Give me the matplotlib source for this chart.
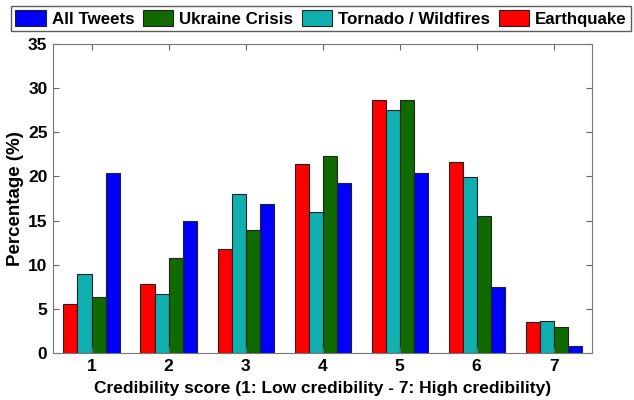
import numpy as np
import matplotlib.pyplot as plt

plt.rcParams['font.family'] = ['Liberation Sans', 'DejaVu Sans']
plt.rcParams['font.weight'] = 'bold'

scores = [1, 2, 3, 4, 5, 6, 7]
earthquake = [5.6, 7.8, 11.8, 21.4, 28.7, 21.6, 3.5]
tornado = [8.9, 6.7, 18.0, 16.0, 27.5, 19.9, 3.6]
ukraine = [6.3, 10.8, 13.9, 22.3, 28.7, 15.5, 2.9]
all_tweets = [20.4, 14.9, 16.9, 19.3, 20.4, 7.5, 0.8]

series = [
    ("Earthquake", earthquake, "#ff0000"),
    ("Tornado / Wildfires", tornado, "#10b0b0"),
    ("Ukraine Crisis", ukraine, "#106a00"),
    ("All Tweets", all_tweets, "#0000ff"),
]

fig = plt.figure(figsize=(6.34, 4), dpi=100)
ax = fig.add_axes([0.0836, 0.1175, 0.8504, 0.7725])

x = np.array(scores)
w = 0.182
bars = {}
for i, (name, vals, col) in enumerate(series):
    bars[name] = ax.bar(x + (i - 1.5) * w, vals, w, color=col,
                        edgecolor="#222222", linewidth=0.8)

ax.set_xlim(0.5, 7.5)
ax.set_ylim(0, 35)
ax.set_xticks(scores)
ax.set_yticks(range(0, 36, 5))
ax.tick_params(direction="in", top=True, right=True, length=4,
               color="#666666", labelsize=12.5, pad=4)
for s in ax.spines.values():
    s.set_color("#777777")
ax.set_ylabel("Percentage (%)", fontsize=13.5, fontweight="bold", labelpad=3)
ax.set_xlabel("Credibility score (1: Low credibility - 7: High credibility)",
              fontsize=12.5, fontweight="bold", labelpad=5)

order = ["All Tweets", "Ukraine Crisis", "Tornado / Wildfires", "Earthquake"]
leg = fig.legend([bars[n] for n in order], order, loc="upper left",
                 bbox_to_anchor=(11 / 634, 1 - 6 / 400), ncol=4, fontsize=12.2,
                 frameon=True, fancybox=False, edgecolor="#333333",
                 handlelength=1.8, handleheight=1.05, columnspacing=0.5,
                 handletextpad=0.35, borderpad=0.25, borderaxespad=0.0)
leg.get_frame().set_linewidth(1.0)

fig.savefig("out.png", dpi=100)
